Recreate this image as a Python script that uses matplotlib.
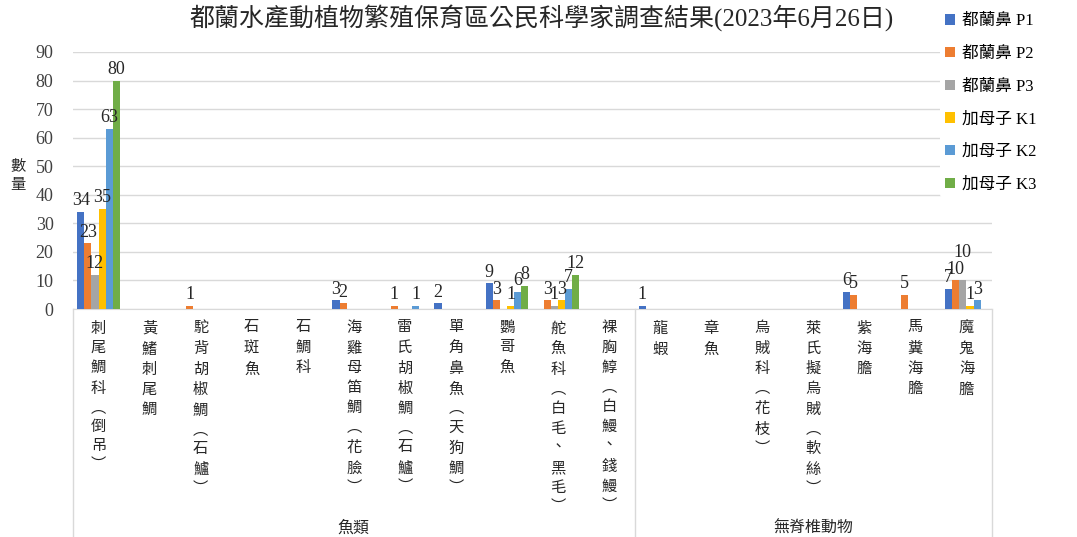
import matplotlib
matplotlib.use("Agg")
import matplotlib.pyplot as plt
import numpy as np

plt.rcParams['font.family'] = ['Liberation Serif', 'Noto Sans CJK TC']

# data
categories = ['刺尾鯛科(倒吊)', '黃鰭刺尾鯛', '駝背胡椒鯛(石鱸)', '石斑魚', '石鯛科',
              '海雞母笛鯛(花臉)', '雷氏胡椒鯛(石鱸)', '單角鼻魚(天狗鯛)', '鸚哥魚',
              '舵魚科(白毛、黑毛)', '裸胸鯙(白鰻、錢鰻)',
              '龍蝦', '章魚', '烏賊科(花枝)', '萊氏擬烏賊(軟絲)', '紫海膽', '馬糞海膽', '魔鬼海膽']
groups = ['魚類', '無脊椎動物']
group_sizes = [11, 7]

series_names = ['都蘭鼻 P1', '都蘭鼻 P2', '都蘭鼻 P3', '加母子 K1', '加母子 K2', '加母子 K3']
p1 = [34, 0, 0, 0, 0, 3, 0, 2, 9, 0, 0, 1, 0, 0, 0, 6, 0, 7]
p2 = [23, 0, 1, 0, 0, 2, 1, 0, 3, 3, 0, 0, 0, 0, 0, 5, 5, 10]
p3 = [12, 0, 0, 0, 0, 0, 0, 0, 0, 1, 0, 0, 0, 0, 0, 0, 0, 10]
k1 = [35, 0, 0, 0, 0, 0, 0, 0, 1, 3, 0, 0, 0, 0, 0, 0, 0, 1]
k2 = [63, 0, 0, 0, 0, 0, 1, 0, 6, 7, 0, 0, 0, 0, 0, 0, 0, 3]
k3 = [80, 0, 0, 0, 0, 0, 0, 0, 8, 12, 0, 0, 0, 0, 0, 0, 0, 0]
colors = ['#4472C4', '#ED7D31', '#A5A5A5', '#FFC000', '#5B9BD5', '#70AD47']

title = '都蘭水產動植物繁殖保育區公民科學家調查結果(2023年6月26日)'

# labels that were nudged up in the original to avoid overlaps: (series, category) -> points
label_lift = {(2, 17): 12}


def vertical(s):
    s = s.replace('(', '︵').replace(')', '︶')
    return '\n'.join(s)


fig = plt.figure(figsize=(10.77, 5.37), dpi=100)
ax = fig.add_axes([73 / 1077, 1 - 309 / 537, 919 / 1077, 257 / 537])

x = np.arange(len(categories))
w = 0.14
for i, (vals, name, c) in enumerate(zip([p1, p2, p3, k1, k2, k3], series_names, colors)):
    bars = ax.bar(x + (i - 2.5) * w, vals, w, color=c, label=name, zorder=3)
    for j, (b, v) in enumerate(zip(bars, vals)):
        if v > 0:
            ax.annotate(str(v), (b.get_x() + b.get_width() / 2, v),
                        xytext=(0, 2 + label_lift.get((i, j), 0)),
                        textcoords='offset points', ha='center', va='bottom',
                        fontsize=13, color='#262626', zorder=4)

ax.set_xlim(-0.5, len(categories) - 0.5)
ax.set_ylim(0, 90)
ax.set_yticks(range(0, 91, 10))
ax.tick_params(axis='y', length=0, labelsize=13, labelcolor='#404040', pad=14)
ax.grid(axis='y', color='#D9D9D9', lw=1, zorder=0)
for s in ['top', 'right', 'left']:
    ax.spines[s].set_visible(False)
ax.spines['bottom'].set_color('#D9D9D9')

ax.set_xticks(x)
ax.set_xticklabels([vertical(c) for c in categories], fontsize=11, linespacing=1.6,
                   va='top', color='#262626')
ax.tick_params(axis='x', length=0, pad=9)

# group separators and group labels
edges = np.cumsum([0] + group_sizes) - 0.5
for e in edges:
    ax.axvline(e, ymin=-0.9, ymax=0, color='#D9D9D9', lw=1, clip_on=False)
for g, a, b in zip(groups, edges[:-1], edges[1:]):
    ax.text((a + b) / 2, -0.855, g, transform=ax.get_xaxis_transform(),
            ha='center', va='center', fontsize=11.5, color='#262626')

ax.set_ylabel('數\n量', rotation=0, fontsize=11, linespacing=1.6, color='#262626',
              va='center')
ax.yaxis.set_label_coords(-0.06, 0.52)

fig.text(0.503, 1 - 18 / 537, title, ha='center', va='center', fontsize=18, color='#262626')

fig.legend(loc='upper left', bbox_to_anchor=(932 / 1077, 1.0), frameon=True,
           edgecolor='none', facecolor='white', framealpha=1, fontsize=12,
           handlelength=0.6, handleheight=0.6, handletextpad=0.4, labelspacing=1.0,
           borderpad=0.3)

fig.savefig('out.png', dpi=100)
